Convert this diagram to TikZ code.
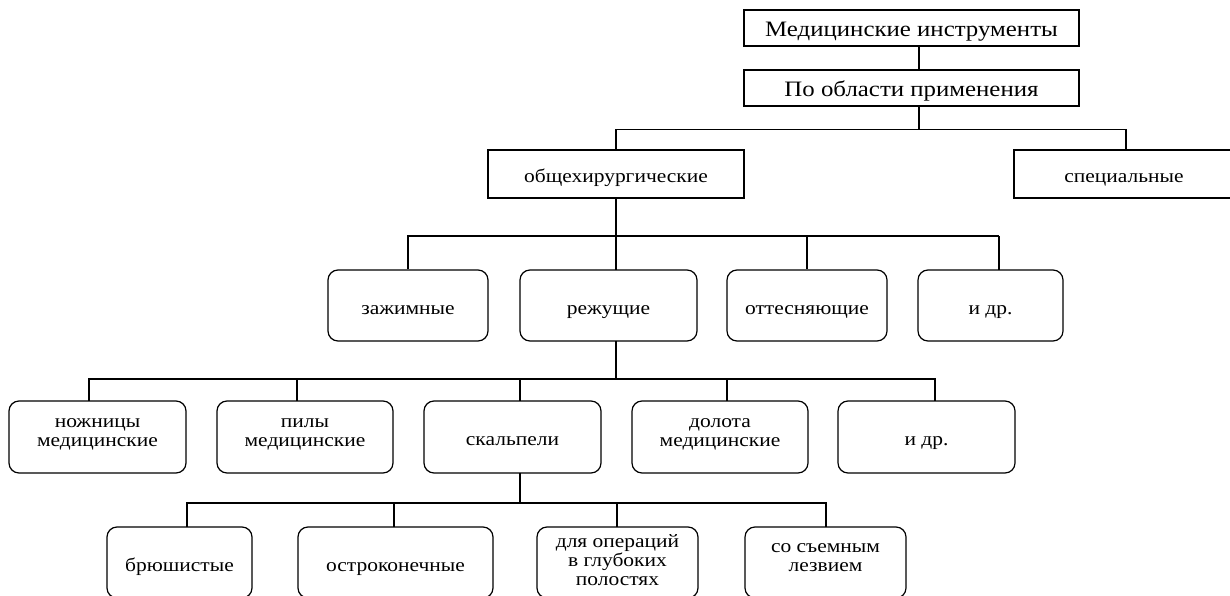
\documentclass[tikz,border=0pt]{standalone}
\usepackage{fontspec}
\setmainfont{Liberation Serif}[FakeStretch=1.13]
\newcommand\topstrut{\rule{0pt}{21.8pt}}
\newcommand\botstrut{\rule[-4.2pt]{0pt}{4.2pt}}

\begin{document}
\begin{tikzpicture}[x=1pt,y=1pt,line width=1.2pt]
  \tikzset{every node/.style={inner sep=0pt, align=center, font=\fontsize{19}{19}\selectfont,
      execute at begin node=\topstrut, execute at end node=\botstrut}}
  \tikzset{sqbox/.style={draw, rectangle}}
  \tikzset{rbox/.style={draw, rectangle, rounded corners=10pt}}
  \tikzset{bigtext/.style={font=\fontsize{22}{22}\selectfont}}
  \useasboundingbox (0,0) rectangle (1230,-596);
  \clip (0,0) rectangle (1230,-596);
  % top
  \node [sqbox, bigtext, minimum width=335, minimum height=36] (instr) at (911.5,-28) {Медицинские инструменты};
  \node [sqbox, bigtext, minimum width=335, minimum height=36] (area) at (911.5,-88) {По области применения};
  \node [sqbox, minimum width=256, minimum height=48] (gen) at (616,-174) {общехирургические};
  \node [sqbox, minimum width=220, minimum height=48] (spec) at (1124,-174) {специальные};
  % level 3
  \node [rbox, minimum width=160, minimum height=71] (clamp) at (408,-305.5) {зажимные};
  \node [rbox, minimum width=177, minimum height=71] (cut) at (608.5,-305.5) {режущие};
  \node [rbox, minimum width=160, minimum height=71] (retr) at (807,-305.5) {оттесняющие};
  \node [rbox, minimum width=145, minimum height=71] (etc1) at (990.5,-305.5) {и др.};
  % level 4
  \node [rbox, minimum width=177, minimum height=72] (sciss) at (97.5,-437) {ножницы\\медицинские\\[-14pt]\mbox{}};
  \node [rbox, minimum width=176, minimum height=72] (saw) at (305,-437) {пилы\\медицинские\\[-14pt]\mbox{}};
  \node [rbox, minimum width=177, minimum height=72] (scalp) at (512.5,-437) {скальпели};
  \node [rbox, minimum width=176, minimum height=72] (chisel) at (720,-437) {долота\\медицинские\\[-14pt]\mbox{}};
  \node [rbox, minimum width=177, minimum height=72] (etc2) at (926.5,-437) {и др.};
  % level 5
  \node [rbox, minimum width=145, minimum height=71] (belly) at (179.5,-562.5) {брюшистые};
  \node [rbox, minimum width=195, minimum height=71] (point) at (395.5,-562.5) {остроконечные};
  \node [rbox, minimum width=161, minimum height=71] (deep) at (617.5,-562.5) {для операций\\в глубоких\\полостях};
  \node [rbox, minimum width=161, minimum height=71] (blade) at (825.5,-562.5) {со съемным\\лезвием\\[-14pt]\mbox{}};
  % connectors
  \draw ([xshift=7.5]instr.south) -- ([xshift=7.5]area.north);
  \draw ([xshift=7.5]area.south) -- ++(0,-23) -| (gen.north);
  \draw ([xshift=7.5]area.south) ++(0,-23) -| (1126,-150);
  \draw (gen.south) -- (616,-236);
  \draw (clamp.north) |- (999,-236);
  \draw (616,-236) -- (616,-270);
  \draw (807,-236) -- (retr.north);
  \draw (999,-236) -- (999,-270);
  \draw (616,-341) -- (616,-379);
  \draw (89,-401) |- (935,-379) -- (935,-401);
  \foreach \x in {297,520,727} \draw (\x,-379) -- (\x,-401);
  \draw (520,-473) -- (520,-503);
  \draw (187,-527) |- (826,-503) -- (826,-527);
  \foreach \x in {394,617} \draw (\x,-503) -- (\x,-527);
\end{tikzpicture}
\end{document}
